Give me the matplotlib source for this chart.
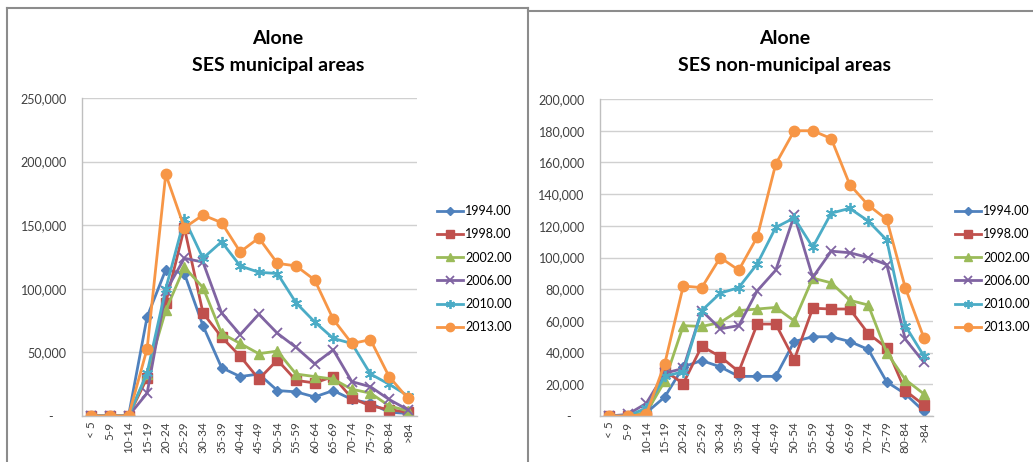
import matplotlib.pyplot as plt
from matplotlib.lines import Line2D
from matplotlib.ticker import FuncFormatter

plt.rcParams['font.family'] = ['Lato', 'DejaVu Sans']

age_groups = ['< 5', '5-9', '10-14', '15-19', '20-24', '25-29', '30-34', '35-39', '40-44',
              '45-49', '50-54', '55-59', '60-64', '65-69', '70-74', '75-79', '80-84', '>84']
years = ['1994.00', '1998.00', '2002.00', '2006.00', '2010.00', '2013.00']

# SES municipal areas
mun_1994 = [0, 0, 0, 78000, 115000, 112000, 71000, 38000, 31000, 33000, 20000, 19000, 15000, 20000, 13000, 10000, 3000, 2000]
mun_1998 = [0, 0, 0, 30000, 89000, 148000, 81000, 62000, 47000, 29000, 44000, 28000, 26000, 31000, 14000, 8000, 5000, 3000]
mun_2002 = [0, 0, 0, 33000, 83000, 117000, 101000, 65000, 57000, 49000, 51000, 33000, 31000, 29000, 21000, 18000, 8000, 4000]
mun_2006 = [0, 0, 0, 18000, 98000, 124000, 121000, 81000, 64000, 80000, 65000, 54000, 41000, 52000, 27000, 23000, 13000, 5000]
mun_2010 = [0, 0, 0, 34000, 100000, 155000, 124000, 137000, 118000, 113000, 112000, 89000, 74000, 61000, 57000, 33000, 25000, 16000]
mun_2013 = [0, 0, 0, 53000, 190000, 148000, 158000, 152000, 129000, 140000, 120000, 118000, 107000, 76000, 57000, 60000, 31000, 14000]

# SES non-municipal areas
non_1994 = [0, 0, 2000, 12000, 31000, 35000, 31000, 25000, 25000, 25000, 47000, 50000, 50000, 47000, 42000, 21500, 14000, 3000]
non_1998 = [0, 0, 0, 28500, 20500, 44000, 37500, 28000, 58000, 58000, 35500, 68000, 67500, 67500, 52000, 43000, 16000, 7000]
non_2002 = [0, 0, 2000, 22000, 57000, 56500, 59000, 66500, 67500, 68500, 60000, 87000, 84000, 73000, 70000, 40000, 23000, 14000]
non_2006 = [0, 1000, 8000, 27000, 30000, 66500, 55000, 57000, 79000, 92000, 126500, 87500, 104000, 103000, 100000, 95500, 48500, 34000]
non_2010 = [0, 0, 5000, 25000, 28000, 66500, 77500, 81000, 96000, 119000, 125000, 106500, 128000, 131000, 123000, 111000, 57000, 38000]
non_2013 = [0, 0, 1000, 33000, 82000, 81000, 100000, 92000, 113000, 159000, 180000, 180000, 175000, 146000, 133000, 124000, 81000, 49500]

colors = ['#4F81BD', '#C0504D', '#9BBB59', '#8064A2', '#4BACC6', '#F79646']
markers = ['D', 's', '^', 'x', (6, 2, 0), 'o']
msizes = [5, 7, 7, 7, 8, 7.5]

W, H = 1033, 462
fig = plt.figure(figsize=(W / 100, H / 100), dpi=100)


def fx(x):
    return x / W


def fy(y):
    return 1 - y / H


def yfmt(v, pos):
    if v == 0:
        return '-    '
    return f'{v:,.0f}'


def draw_panel(rect, series, ymax, ystep, title, title_x, legend_x):
    (x0, y0, x1, y1) = rect
    ax = fig.add_axes([fx(x0), fy(y1), fx(x1 - x0), (y1 - y0) / H])
    x = range(len(age_groups))
    for (vals, c, m, ms, lab) in zip(series, colors, markers, msizes, years):
        mk = dict(markeredgecolor=c, markerfacecolor=c)
        if m == 'x' or isinstance(m, tuple):
            mk['markeredgewidth'] = 1.3
        ax.plot(x, vals, color=c, marker=m, markersize=ms, linewidth=2, label=lab, **mk)
    ax.set_xlim(-0.5, len(age_groups) - 0.5)
    ax.set_ylim(0, ymax)
    ax.set_yticks(range(0, ymax + 1, ystep))
    ax.yaxis.set_major_formatter(FuncFormatter(yfmt))
    ax.set_xticks(list(x))
    ax.set_xticklabels(age_groups, rotation=90)
    ax.tick_params(axis='y', length=0, pad=11, labelsize=9, colors='#404040')
    ax.tick_params(axis='x', length=0, pad=4, labelsize=8.5, colors='#404040')
    ax.grid(axis='y', color='#d0d0d0', linewidth=1)
    ax.set_axisbelow(True)
    for s in ['top', 'right']:
        ax.spines[s].set_visible(False)
    for s in ['left', 'bottom']:
        ax.spines[s].set_color('#bfbfbf')
        ax.spines[s].set_linewidth(1)
    fig.text(fx(title_x), fy(38), 'Alone', ha='center', va='center', fontsize=14, fontweight='bold')
    fig.text(fx(title_x), fy(66), title, ha='center', va='center', fontsize=14, fontweight='bold')
    ax.legend(loc='upper left', bbox_to_anchor=(fx(legend_x), fy(205)), bbox_transform=fig.transFigure,
              frameon=False, fontsize=9, handlelength=2.1, handletextpad=0.15, labelspacing=0.9,
              markerscale=0.8, borderpad=0, borderaxespad=0)
    return ax


draw_panel((82, 98, 417, 416), [mun_1994, mun_1998, mun_2002, mun_2006, mun_2010, mun_2013],
           250000, 50000, 'SES municipal areas', 278, 437)
draw_panel((600, 99, 933, 416), [non_1994, non_1998, non_2002, non_2006, non_2010, non_2013],
           200000, 20000, 'SES non-municipal areas', 785, 955)

# panel borders
border = dict(color='#8c8c8c', linewidth=1.5, transform=fig.transFigure)
fig.add_artist(Line2D([fx(7), fx(528)], [fy(8), fy(8)], **border))
fig.add_artist(Line2D([fx(7), fx(7)], [fy(8), fy(462)], **border))
fig.add_artist(Line2D([fx(528), fx(528)], [fy(8), fy(462)], **border))
fig.add_artist(Line2D([fx(528), fx(1033)], [fy(11), fy(11)], **border))

plt.savefig('out.png', dpi=100, facecolor='white')
